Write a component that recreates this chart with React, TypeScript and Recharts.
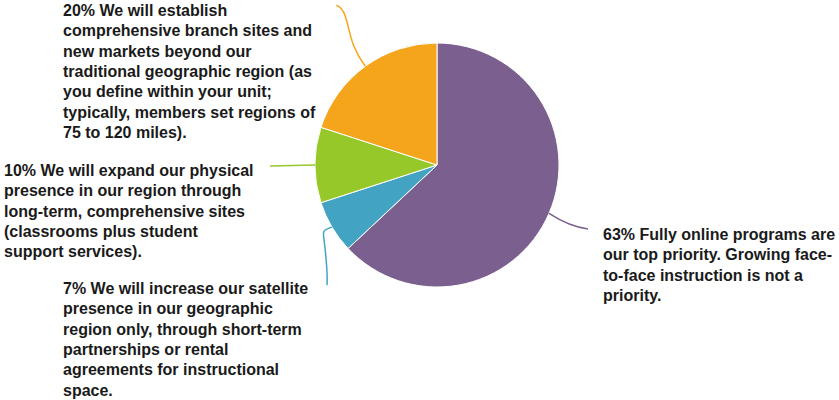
import { Cell, Pie, PieChart } from 'recharts';

const names = ['online', 'satellite', 'physical', 'branch'];
const shares = [63, 7, 10, 20];
const colors = ['#7B5F8E', '#42A3C3', '#97C82A', '#F5A51C'];

const labelLines = [
  ['63% Fully online programs are', 'our top priority. Growing face-', 'to-face instruction is not a', 'priority.'],
  [
    '7% We will increase our satellite',
    'presence in our geographic',
    'region only, through short-term',
    'partnerships or rental',
    'agreements for instructional',
    'space.',
  ],
  [
    '10% We will expand our physical',
    'presence in our region through',
    'long-term, comprehensive sites',
    '(classrooms plus student',
    'support services).',
  ],
  [
    '20% We will establish',
    'comprehensive branch sites and',
    'new markets beyond our',
    'traditional geographic region (as',
    'you define within your unit;',
    'typically, members set regions of',
    '75 to 120 miles).',
  ],
];

const chartData = names.map((name, i) => ({ name, value: shares[i] }));

// text offsets from pie centre and leader paths relative to slice edge point
const labelLayout = [
  { dx: 166, dy: 75, leader: 'M0 0 Q21 13.5 39 15.5' },
  { dx: -374, dy: 129, leader: 'M0 0 C-10 3 -9 5 -8 12 C-6 30 -4 45 -5 58' },
  { dx: -433, dy: 11, leader: 'M0 0 L-45 1' },
  { dx: -374, dy: -149, leader: 'M0 0 C-15 -20 -15 -35 -20 -50 C-22 -56 -26 -60 -29 -61' },
];

const RAD = Math.PI / 180;
const LINE_H = 20.3;

const renderLabel = (props: any) => {
  const { cx, cy, midAngle, outerRadius, index } = props;
  const ax = cx + outerRadius * Math.cos(-midAngle * RAD);
  const ay = cy + outerRadius * Math.sin(-midAngle * RAD);
  const lay = labelLayout[index];
  const tx = cx + lay.dx;
  const ty = cy + lay.dy;
  return (
    <g key={`lbl-${index}`}>
      <path
        d={lay.leader}
        transform={`translate(${ax},${ay})`}
        fill="none"
        stroke={colors[index]}
        strokeWidth={1.5}
      />
      <text
        x={tx}
        y={ty}
        fill="#1a1a1a"
        fontFamily="'Liberation Sans', Arial, Helvetica, sans-serif"
        fontWeight="bold"
        fontSize={16}
      >
        {labelLines[index].map((line, j) => (
          <tspan key={j} x={tx} y={ty + j * LINE_H}>
            {line}
          </tspan>
        ))}
      </text>
    </g>
  );
};

export default function App() {
  return (
    <div style={{ position: 'absolute', left: 0, top: 0, width: 839, height: 400, background: '#fff' }}>
      <PieChart width={839} height={400} margin={{ top: 0, right: 0, bottom: 0, left: 0 }}>
        <Pie
          data={chartData}
          dataKey="value"
          nameKey="name"
          cx={437}
          cy={165}
          outerRadius={122}
          startAngle={90}
          endAngle={-270}
          stroke="#fff"
          strokeWidth={1}
          label={renderLabel}
          labelLine={false}
          isAnimationActive={false}
        >
          {chartData.map((d, i) => (
            <Cell key={d.name} fill={colors[i]} />
          ))}
        </Pie>
      </PieChart>
    </div>
  );
}
